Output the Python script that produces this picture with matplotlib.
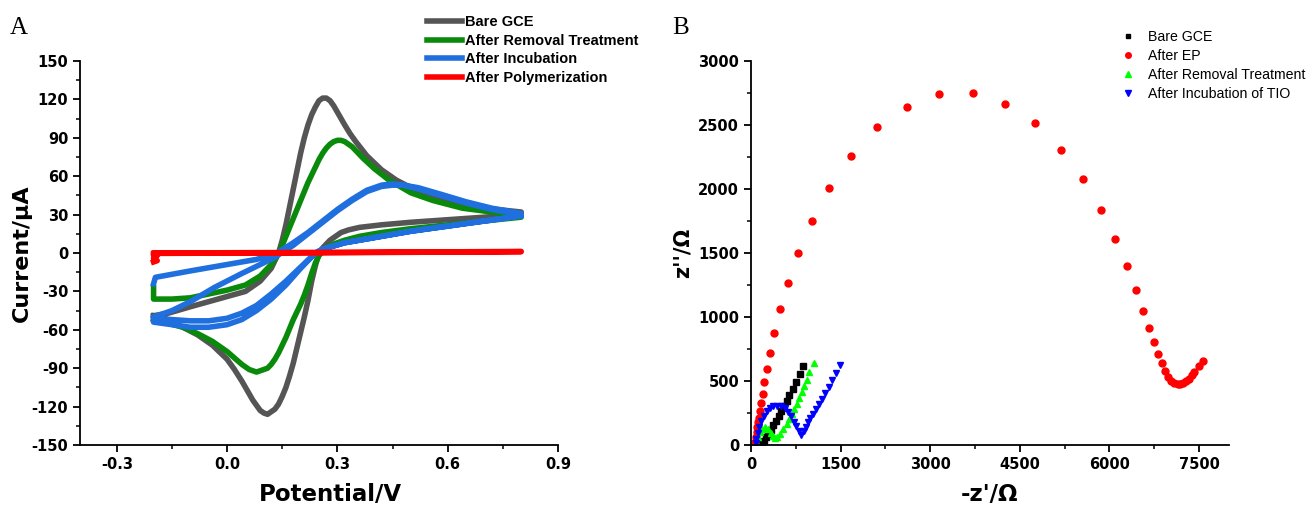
import matplotlib
matplotlib.use("Agg")
import matplotlib.pyplot as plt
from matplotlib.ticker import MultipleLocator

# ---- Panel A: cyclic voltammetry (potential in V, current in uA) ----
E_bare = [-0.20, -0.16, -0.10, -0.05, 0.00, 0.05, 0.09, 0.12, 0.14, 0.15, 0.16, 0.17,
          0.18, 0.19, 0.20, 0.21, 0.22, 0.23, 0.24, 0.25, 0.26, 0.27, 0.28, 0.29, 0.30,
          0.31, 0.32, 0.335, 0.35, 0.38, 0.42, 0.46, 0.52, 0.60, 0.70, 0.80,
          0.80, 0.70, 0.60, 0.50, 0.42, 0.36, 0.33, 0.31, 0.29, 0.28, 0.27, 0.26, 0.25,
          0.24, 0.23, 0.22, 0.21, 0.20, 0.19, 0.18, 0.17, 0.16, 0.15, 0.14, 0.13, 0.12,
          0.11, 0.10, 0.09, 0.08, 0.07, 0.06, 0.04, 0.02, 0.00, -0.04, -0.08, -0.12,
          -0.16, -0.20]
I_bare = [-49, -47, -42, -38, -34, -30, -22, -12, 0, 10, 22, 36,
          50, 64, 78, 90, 100, 108, 114, 119, 121, 121, 119, 115, 110,
          105, 100, 93, 87, 76, 65, 57, 48, 40, 35, 32,
          30, 28, 26, 24, 22, 20, 18, 16, 12, 10, 7, 4, 0,
          -10, -22, -37, -50, -62, -74, -86, -96, -105, -112, -118, -122, -124,
          -126, -125, -123, -119, -115, -110, -100, -91, -83, -72, -64, -58,
          -52, -49]

E_removal = [-0.20, -0.20, -0.15, -0.10, -0.05, 0.00, 0.05, 0.09, 0.12, 0.14, 0.15, 0.16,
             0.17, 0.18, 0.19, 0.20, 0.21, 0.22, 0.23, 0.24, 0.25, 0.26, 0.27, 0.28, 0.29,
             0.30, 0.31, 0.32, 0.34, 0.37, 0.40, 0.44, 0.50, 0.56, 0.64, 0.72, 0.80,
             0.80, 0.70, 0.60, 0.50, 0.42, 0.36, 0.32, 0.29, 0.27, 0.26, 0.25, 0.24, 0.23,
             0.22, 0.21, 0.20, 0.19, 0.18, 0.17, 0.16, 0.15, 0.14, 0.13, 0.12, 0.11, 0.10,
             0.09, 0.08, 0.07, 0.06, 0.04, 0.02, 0.00, -0.04, -0.08, -0.12, -0.16, -0.20]
I_removal = [-27, -36, -36, -35, -32, -29, -25, -18, -9, 0, 6, 13,
             20, 27, 34, 41, 48, 55, 61, 67, 73, 78, 82, 85, 87,
             88, 88, 87, 83, 74, 66, 57, 47, 41, 35, 32, 29,
             28, 25, 22, 19, 16, 13, 10, 7, 4, 1, -2, -8, -16,
             -25, -33, -40, -46, -52, -59, -66, -72, -78, -83, -87, -90, -91,
             -92, -93, -92, -91, -87, -82, -77, -69, -63, -58, -55, -52]

E_incub = [-0.20, -0.195, -0.10, 0.00, 0.08, 0.13, 0.18, 0.22, 0.26, 0.30, 0.34, 0.38,
           0.42, 0.45, 0.48, 0.52, 0.58, 0.65, 0.72, 0.80,
           0.80, 0.70, 0.60, 0.50, 0.40, 0.32, 0.26, 0.24, 0.20, 0.16, 0.12, 0.08, 0.04,
           0.00, -0.05, -0.10, -0.15, -0.20,
           -0.20, -0.15, -0.10, -0.035, 0.04, 0.126, 0.18, 0.22, 0.26, 0.30, 0.34, 0.38,
           0.42, 0.45, 0.48, 0.52, 0.58, 0.65, 0.72, 0.80,
           0.80, 0.70, 0.60, 0.50, 0.40, 0.32, 0.26, 0.24, 0.20, 0.16, 0.12, 0.08, 0.04,
           0.00, -0.05, -0.10, -0.15, -0.20]
I_incub = [-24, -19, -14, -9, -5, -1, 8, 16, 25, 34, 42, 49,
           53, 54, 53, 51, 46, 40, 35, 31,
           29, 25, 21, 17, 12, 8, 3, 0, -12, -25, -36, -45, -52,
           -56, -58, -58, -56, -54,
           -50, -45, -38, -27, -16, -4, 6, 15, 24, 33, 41, 48,
           52, 53, 53, 50, 45, 39, 34, 30,
           29, 25, 21, 17, 12, 8, 3, 0, -11, -22, -32, -41, -47,
           -51, -53, -53, -52, -51]

E_poly = [-0.20, -0.19, -0.20, -0.19, -0.20, -0.20, 0.00, 0.20, 0.40, 0.60, 0.80,
          0.80, 0.60, 0.40, 0.20, 0.00, -0.20]
I_poly = [-7, -6, -4, -2, -1, 0, 0.2, 0.4, 0.6, 0.9, 1.2,
          1.0, 0.7, 0.4, 0.1, -0.1, -0.3]

# ---- Panel B: Nyquist plot (ohm) ----
zre_bare = [179, 218, 251, 291, 330, 374, 419, 464, 508, 553, 598, 642, 698, 754, 821, 877]
zim_bare = [15, 33, 59, 85, 118, 155, 188, 227, 265, 304, 343, 387, 438, 490, 554, 619]

zre_ep = [72, 84, 96, 106, 122, 139, 156, 173, 196, 223, 263, 314, 381, 493, 618, 792,
          1014, 1306, 1667, 2104, 2604, 3153, 3715, 4250, 4750, 5188, 5556, 5854, 6097,
          6292, 6444, 6556, 6667, 6750, 6819, 6875, 6931, 6979, 7028, 7083, 7139, 7188,
          7236, 7285, 7326, 7375, 7417, 7493, 7569]
zim_ep = [26, 60, 98, 137, 176, 214, 265, 325, 397, 490, 593, 722, 876, 1060, 1268, 1499,
          1751, 2008, 2260, 2481, 2644, 2740, 2748, 2662, 2512, 2304, 2078, 1836, 1610,
          1400, 1210, 1049, 914, 805, 712, 639, 579, 532, 499, 483, 475, 478,
          486, 499, 519, 545, 571, 616, 660]

zre_removal = [95, 123, 151, 190, 235, 291, 335, 374, 402, 431, 486, 541, 598, 642, 682,
               721, 766, 810, 850, 888, 933, 977, 1056]
zim_removal = [8, 59, 98, 129, 137, 124, 93, 67, 54, 59, 85, 124, 162, 201, 240,
               278, 322, 369, 412, 459, 510, 567, 640]

zre_tio = [76, 90, 111, 139, 174, 215, 264, 319, 375, 438, 500, 562, 618, 667, 715, 757,
           806, 845, 882, 917, 951, 993, 1035, 1090, 1139, 1194, 1243, 1299, 1354, 1417,
           1496]
zim_tio = [13, 47, 94, 140, 187, 229, 262, 286, 301, 306, 301, 286, 260, 223, 182, 145,
           112, 82, 112, 143, 177, 210, 244, 280, 319, 358, 405, 455, 509, 561, 624]

TICK_FONT = {"family": "DejaVu Sans", "weight": "bold", "size": 10.5}


def style_axes(ax):
    for side in ("top", "right"):
        ax.spines[side].set_visible(False)
    for side in ("left", "bottom"):
        ax.spines[side].set_linewidth(1.3)
    ax.tick_params(which="major", direction="out", length=5, width=1.3)
    ax.tick_params(which="minor", direction="out", length=3, width=1.1)
    for lab in ax.get_xticklabels() + ax.get_yticklabels():
        lab.set_fontproperties(TICK_FONT)


def plot_cv(ax):
    ax.plot(E_bare, I_bare, color="#555555", lw=4, label="Bare GCE")
    ax.plot(E_removal, I_removal, color="#0a8a0a", lw=4, label="After Removal Treatment")
    ax.plot(E_incub, I_incub, color="#1f6fde", lw=4, label="After Incubation")
    ax.plot(E_poly, I_poly, color="#ff0000", lw=4, label="After Polymerization")

    ax.set_xlim(-0.4, 0.9)
    ax.set_ylim(-150, 150)
    ax.xaxis.set_major_locator(MultipleLocator(0.3))
    ax.xaxis.set_minor_locator(MultipleLocator(0.15))
    ax.yaxis.set_major_locator(MultipleLocator(30))
    ax.yaxis.set_minor_locator(MultipleLocator(15))
    ax.set_xticks([-0.3, 0.0, 0.3, 0.6, 0.9])
    ax.set_xticklabels(["-0.3", "0.0", "0.3", "0.6", "0.9"])
    ax.set_yticks(list(range(-150, 151, 30)))
    ax.set_yticklabels([str(v) for v in range(-150, 151, 30)])

    ax.set_xlabel("Potential/V", fontsize=16.5, fontweight="bold", family="DejaVu Sans")
    ax.set_ylabel("Current/\u03bcA", fontsize=16, fontweight="bold", family="DejaVu Sans")
    ax.xaxis.set_label_coords(0.523, -0.10)
    ax.yaxis.set_label_coords(-0.10, 0.5)
    style_axes(ax)


def plot_eis(ax):
    ax.plot(zre_bare, zim_bare, ls="none", marker="s", ms=4.2, color="black", label="Bare GCE")
    ax.plot(zre_ep, zim_ep, ls="none", marker="o", ms=5, color="#ff0000", label="After EP")
    ax.plot(zre_removal, zim_removal, ls="none", marker="^", ms=5, color="#00ff00",
            label="After Removal Treatment")
    ax.plot(zre_tio, zim_tio, ls="none", marker="v", ms=5, color="#0000ff",
            label="After Incubation of TIO")

    ax.set_xlim(0, 8000)
    ax.set_ylim(0, 3000)
    ax.xaxis.set_major_locator(MultipleLocator(1500))
    ax.xaxis.set_minor_locator(MultipleLocator(750))
    ax.yaxis.set_major_locator(MultipleLocator(500))
    ax.yaxis.set_minor_locator(MultipleLocator(250))
    ax.set_xticks([0, 1500, 3000, 4500, 6000, 7500])
    ax.set_xticklabels(["0", "1500", "3000", "4500", "6000", "7500"])
    ax.set_yticks(list(range(0, 3001, 500)))
    ax.set_yticklabels([str(v) for v in range(0, 3001, 500)])

    ax.set_xlabel("-z'/\u03a9", fontsize=16.5, fontweight="bold", family="DejaVu Sans")
    ax.set_ylabel("z''/\u03a9", fontsize=15, fontweight="bold", family="DejaVu Sans")
    ax.xaxis.set_label_coords(0.5, -0.10)
    ax.yaxis.set_label_coords(-0.123, 0.5)
    style_axes(ax)


def main():
    fig = plt.figure(figsize=(13.12, 5.09), dpi=100)
    ax_a = fig.add_axes([0.061, 0.1257, 0.3643, 0.7545])
    ax_b = fig.add_axes([0.5724, 0.1257, 0.3643, 0.7545])

    plot_cv(ax_a)
    plot_eis(ax_b)

    fig.legend(*ax_a.get_legend_handles_labels(), loc="upper left",
               bbox_to_anchor=(427 / 1312, 1 - 15 / 509), frameon=False,
               borderpad=0, borderaxespad=0, handlelength=2.4,
               handletextpad=0.2, labelspacing=0.32,
               prop={"family": "Liberation Sans", "weight": "bold", "size": 10.5})
    fig.legend(*ax_b.get_legend_handles_labels(), loc="upper left",
               bbox_to_anchor=(1121 / 1312, 1 - 30 / 509), frameon=False,
               borderpad=0, borderaxespad=0, handlelength=0.95,
               handletextpad=0.95, labelspacing=0.36, markerscale=0.8,
               prop={"family": "Liberation Sans", "size": 10.2})

    fig.text(10 / 1312, 1 - 17 / 509, "A", family="Liberation Serif", fontsize=18, va="top")
    fig.text(672 / 1312, 1 - 17 / 509, "B", family="Liberation Serif", fontsize=18, va="top")

    fig.savefig("out.png", dpi=100)


if __name__ == "__main__":
    main()
